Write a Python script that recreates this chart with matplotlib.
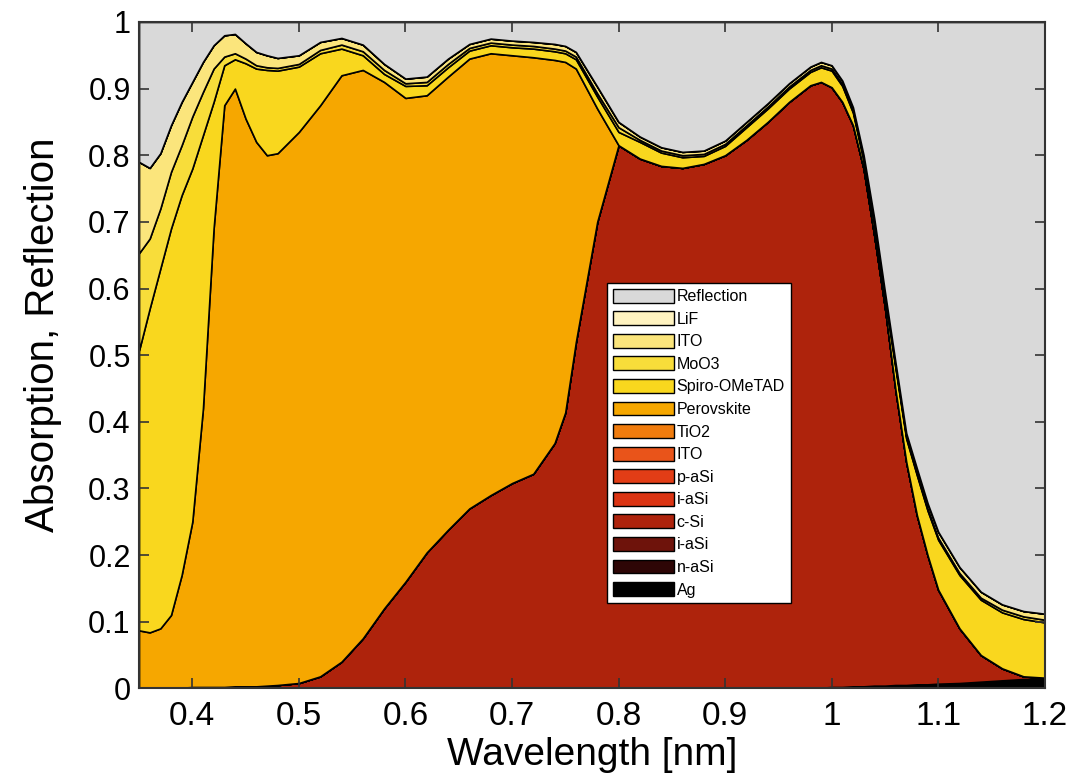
import numpy as np
import matplotlib
matplotlib.use("Agg")
import matplotlib.pyplot as plt
from matplotlib.patches import Patch

# ---- Data: top edge of each stacked layer (cumulative) ----
WL = [0.35, 0.36, 0.37, 0.38, 0.39, 0.40, 0.41, 0.42, 0.43, 0.44, 0.45, 0.46,
      0.47, 0.48, 0.50, 0.52, 0.54, 0.56, 0.58, 0.60, 0.62, 0.64, 0.66, 0.68,
      0.70, 0.72, 0.74, 0.75, 0.76, 0.78, 0.80, 0.82, 0.84, 0.86, 0.88, 0.90,
      0.92, 0.94, 0.96, 0.98, 0.99, 1.00, 1.01, 1.02, 1.03, 1.04, 1.05, 1.06,
      1.07, 1.08, 1.09, 1.10, 1.12, 1.14, 1.16, 1.18, 1.20]

TOP_AG = [0, 0, 0, 0, 0, 0, 0, 0, 0, 0, 0, 0,
          0, 0, 0, 0, 0, 0, 0, 0, 0, 0, 0, 0,
          0, 0, 0, 0, 0, 0, 0, 0, 0, 0, 0, 0,
          0, 0, 0, .001, .001, .002, .002, .003, .003, .004, .004, .005,
          .005, .006, .006, .007, .008, .010, .012, .014, .015]

TOP_CSI = [.001, .001, .001, .001, .001, .002, .002, .002, .002, .003, .003, .003,
           .004, .005, .008, .018, .040, .075, .120, .160, .204, .238, .270, .290,
           .308, .322, .368, .414, .520, .700, .815, .795, .784, .781, .787, .800,
           .823, .850, .880, .905, .910, .902, .880, .845, .780, .680, .572, .447,
           .340, .260, .200, .148, .090, .050, .030, .018, .016]

TOP_PEROVSKITE = [.087, .084, .090, .110, .170, .250, .420, .690, .875, .900, .855, .820,
                  .800, .803, .835, .875, .920, .928, .910, .886, .890, .918, .945, .953,
                  .950, .947, .943, .940, .930, .870, .815, .795, .784, .781, .787, .800,
                  .823, .850, .880, .905, .910, .902, .880, .845, .780, .680, .572, .447,
                  .340, .260, .200, .148, .090, .050, .030, .018, .016]

TOP_SPIRO = [.507, .570, .630, .690, .740, .780, .830, .880, .935, .944, .938, .930,
             .928, .927, .933, .953, .960, .950, .922, .904, .905, .932, .957, .965,
             .962, .960, .956, .953, .944, .888, .835, .820, .804, .797, .799, .814,
             .842, .870, .900, .925, .932, .927, .904, .864, .792, .697, .587, .480,
             .375, .320, .267, .223, .170, .133, .114, .104, .099]

TOP_MOO3 = [.653, .675, .720, .775, .815, .858, .895, .930, .948, .953, .945, .935,
            .932, .931, .937, .958, .966, .956, .928, .908, .910, .937, .961, .969,
            .966, .964, .960, .957, .948, .893, .842, .823, .807, .800, .802, .817,
            .845, .873, .903, .928, .935, .930, .907, .867, .795, .700, .590, .483,
            .378, .323, .270, .226, .173, .136, .118, .108, .103]

TOP_ITO = [.790, .781, .803, .845, .880, .910, .940, .965, .980, .982, .968, .955,
           .950, .946, .950, .970, .976, .966, .937, .915, .918, .945, .967, .975,
           .972, .970, .967, .964, .955, .903, .850, .828, .812, .805, .807, .822,
           .850, .878, .908, .933, .940, .935, .912, .872, .800, .705, .595, .488,
           .383, .330, .278, .235, .182, .145, .126, .116, .112]

LAYERS = ["Ag", "n-aSi", "i-aSi", "c-Si", "i-aSi", "p-aSi", "ITO", "TiO2",
          "Perovskite", "Spiro-OMeTAD", "MoO3", "ITO", "LiF", "Reflection"]
COLORS = ["#000000", "#2e0606", "#6e130b", "#ae230c", "#db3413", "#e23d16",
          "#e9541a", "#f07c0e", "#f6a700", "#f9d71e", "#f8dd3a", "#fbe57c",
          "#fff3c0", "#d9d9d9"]

# ---- Style ----
plt.rcParams.update({
    "font.family": ["Liberation Sans", "DejaVu Sans"],
    "font.size": 20,
})

wl = np.array(WL)
zero = np.zeros_like(wl)
# cumulative tops, bottom to top; thin interlayers absorb (almost) nothing
tops = [TOP_AG, TOP_AG, TOP_AG, TOP_CSI, TOP_CSI, TOP_CSI, TOP_CSI, TOP_CSI,
        TOP_PEROVSKITE, TOP_SPIRO, TOP_MOO3, TOP_ITO, TOP_ITO]
tops = np.array(tops, dtype=float)
layers = np.diff(np.vstack([zero, tops]), axis=0)
layers = np.clip(layers, 0, None)
reflection = 1.0 - tops[-1]
layers = np.vstack([layers, reflection])

fig = plt.figure(figsize=(10.86, 7.84), dpi=100)
ax = fig.add_axes([0.128, 0.122, 0.834, 0.850])

ax.stackplot(wl, layers, colors=COLORS, edgecolor="black", linewidth=1.2)

xt = np.round(np.arange(0.4, 1.21, 0.1), 1)
yt = np.round(np.arange(0, 1.01, 0.1), 1)
ax.set_xlim(0.35, 1.2)
ax.set_ylim(0, 1)
ax.set_xticks(xt)
ax.set_yticks(yt)
ax.set_xticklabels([f"{v:g}" for v in xt], fontsize=24)
ax.set_yticklabels([f"{v:g}" for v in yt], fontsize=22)
ax.tick_params(direction="in", top=True, right=True, length=7, width=1.2,
               color="#333333")
ax.tick_params(axis="x", pad=9)
ax.tick_params(axis="y", pad=6)
for s in ax.spines.values():
    s.set_linewidth(1.5)
    s.set_color("#333333")

ax.set_xlabel("Wavelength [nm]", fontsize=28, labelpad=4)
ax.set_ylabel("Absorption, Reflection", fontsize=29)
ax.yaxis.set_label_coords(-0.085, 0.53)

handles = [Patch(facecolor=c, edgecolor="black", linewidth=1.0, label=l)
           for c, l in zip(COLORS, LAYERS)]
leg = ax.legend(handles[::-1], [h.get_label() for h in handles[::-1]],
                loc="upper left", bbox_to_anchor=(0.517, 0.608),
                fontsize=11.5, frameon=True, fancybox=False, framealpha=1,
                edgecolor="black", handlelength=3.8, handleheight=0.95,
                handletextpad=0.2, labelspacing=0.45, borderpad=0.35,
                borderaxespad=0)
leg.get_frame().set_linewidth(1.0)

fig.savefig("out.png", dpi=100)
